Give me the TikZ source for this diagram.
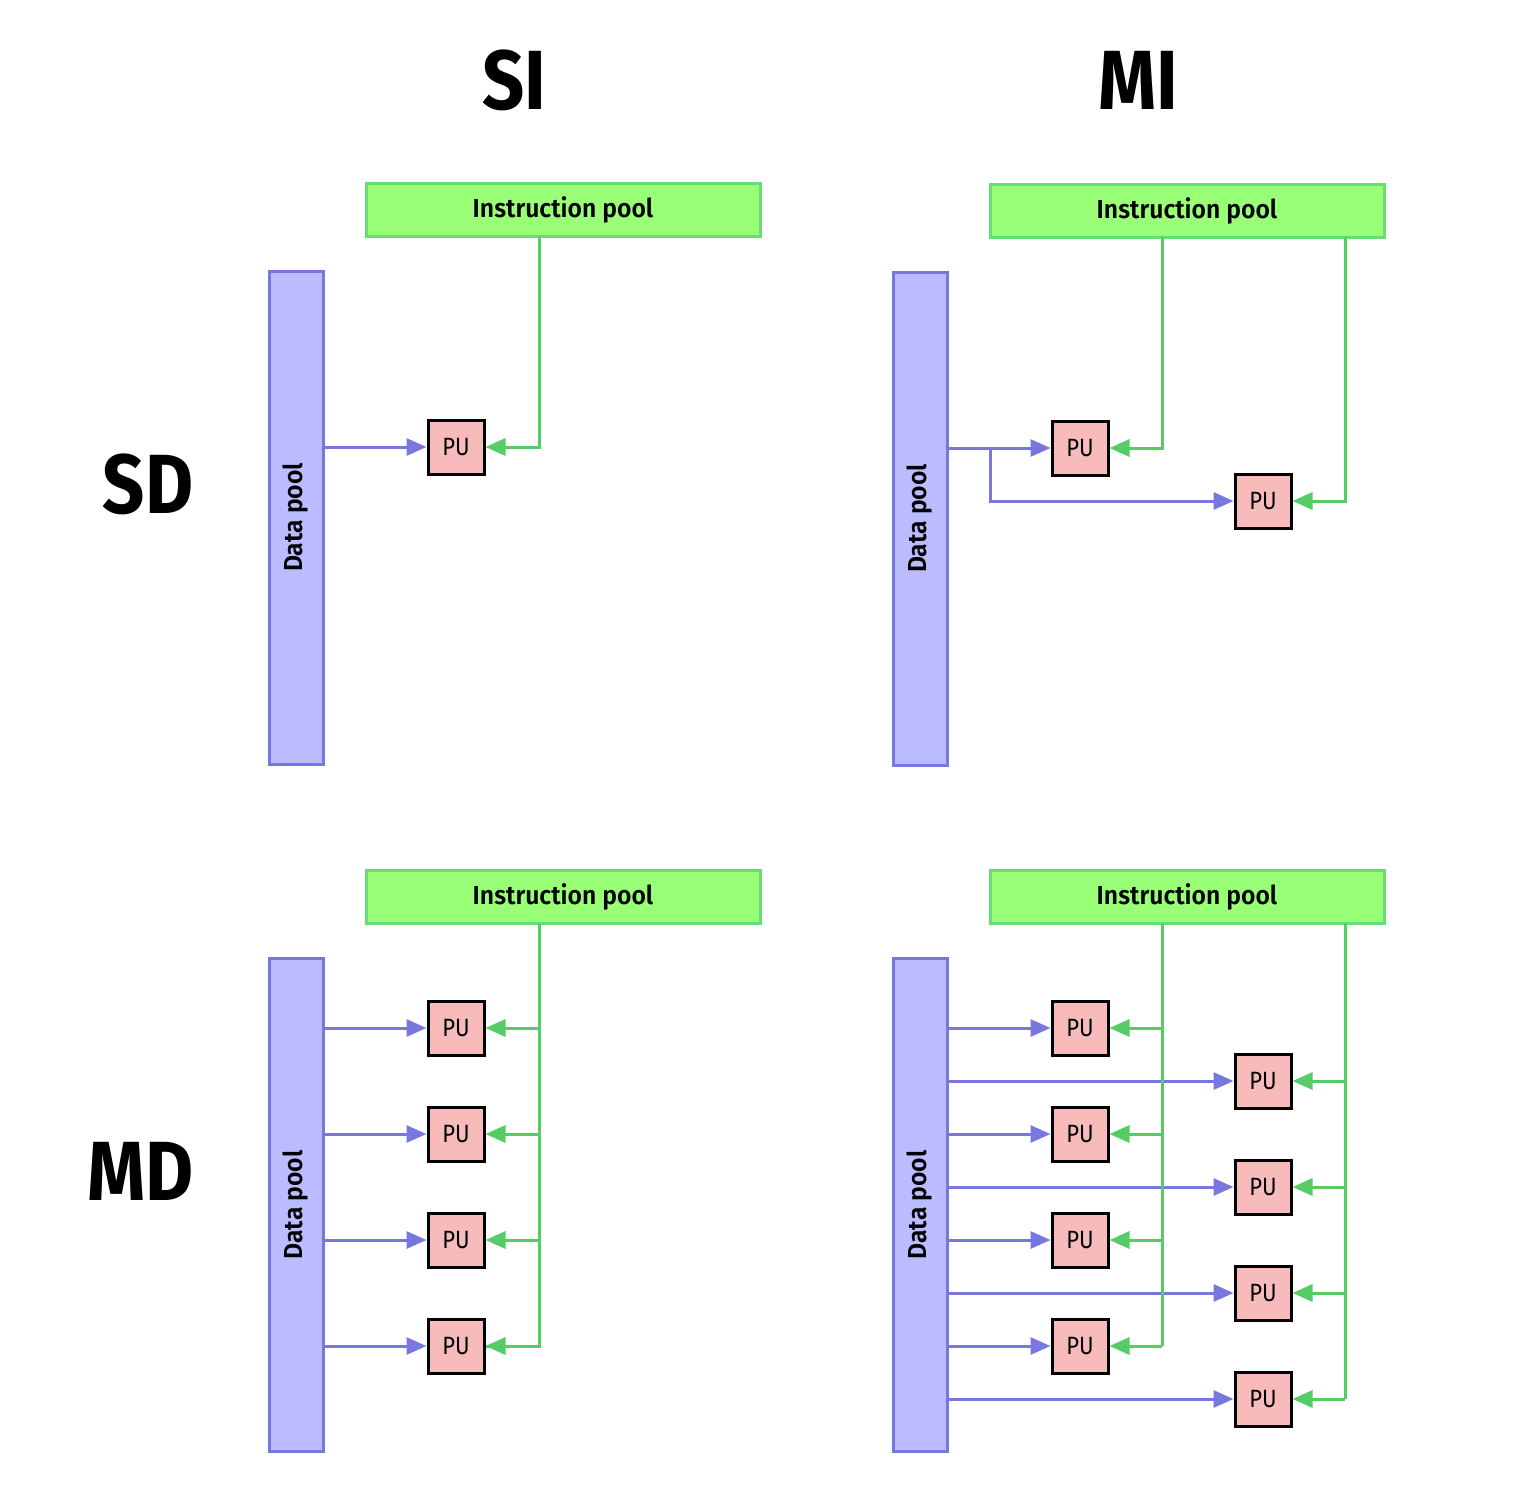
\documentclass[tikz,border=0pt]{standalone}
\usepackage{fontspec}
\setmainfont{Fira Sans}
\newfontfamily\firasbc[FakeStretch=0.95]{Fira Sans SemiBold}
\newfontfamily\firac[FakeStretch=0.88]{Fira Sans}
\newfontfamily\firabc[FakeStretch=0.88]{Fira Sans Bold}
\usetikzlibrary{arrows.meta}
\definecolor{ipfill}{HTML}{99FF77}
\definecolor{ipdraw}{HTML}{66DD77}
\definecolor{dpfill}{HTML}{BBBBFF}
\definecolor{dpdraw}{HTML}{7777DD}
\definecolor{pufill}{HTML}{F8BBBB}
\definecolor{gline}{HTML}{55CC66}
\definecolor{bline}{HTML}{7777DD}
\tikzset{
  ipbox/.style={draw=ipdraw, fill=ipfill, line width=3pt, minimum width=394pt, minimum height=53pt, inner sep=0pt, font=\firasbc\fontsize{26}{28}\selectfont},
  dpbox/.style={draw=dpdraw, fill=dpfill, line width=3pt, minimum width=54pt, minimum height=493pt, inner sep=0pt},
  dplabel/.style={rotate=90, font=\firasbc\fontsize{26}{28}\selectfont},
  pubox/.style={draw=black, fill=pufill, line width=3pt, minimum width=56pt, minimum height=54pt, inner sep=0pt, font=\firac\fontsize{25}{27}\selectfont},
  garr/.style={draw=gline, line width=3pt, -{Triangle[length=20pt,width=17pt]}},
  barr/.style={draw=bline, line width=3pt, -{Triangle[length=20pt,width=17pt]}},
  gseg/.style={draw=gline, line width=3pt},
  title/.style={font=\firabc\fontsize{84}{90}\selectfont}
}
\begin{document}
\begin{tikzpicture}[x=1pt,y=-1pt]
\useasboundingbox (0,0) rectangle (1514,1504);
% titles
\node[title] (tSI) at (514,80) {SI};
\node[title] (tMI) at (1138,80) {MI};
\node[title] (tSD) at (148,484) {SD};
\node[title] (tMD) at (141,1171) {MD};

% ===== SI SD =====
\node[ipbox] (ipA) at (563,210) {Instruction pool};
\node[dpbox] (dpA) at (296,517.5) {};
\node[dplabel] (dpAl) at (dpA.center) {Data pool};
\node[pubox] (puA) at (456,447) {PU};
\coordinate (gA) at (539,237);
\draw[barr] (dpA.east |- puA.west) -- (puA.west);
\draw[garr] (gA) |- (puA.east);

% ===== MI SD =====
\node[ipbox] (ipB) at (1187,210.5) {Instruction pool};
\node[dpbox] (dpB) at (920,518.5) {};
\node[dplabel] (dpBl) at (dpB.center) {Data pool};
\node[pubox] (puB1) at (1080,448) {PU};
\node[pubox] (puB2) at (1263,501) {PU};
\coordinate (gB1) at (1162,237);
\coordinate (gB2) at (1345,237);
\coordinate (brB) at (990,448);
\draw[barr] (dpB.east |- puB1.west) -- (puB1.west);
\draw[barr] (brB) |- (puB2.west);
\draw[garr] (gB1) |- (puB1.east);
\draw[garr] (gB2) |- (puB2.east);

% ===== SI MD =====
\node[ipbox] (ipC) at (563,896.5) {Instruction pool};
\node[dpbox] (dpC) at (296,1205) {};
\node[dplabel] (dpCl) at (dpC.center) {Data pool};
\coordinate (gC) at (539,923);
\foreach \i/\y in {1/1028,2/1134,3/1240,4/1346}{
  \node[pubox] (puC\i) at (456,\y) {PU};
  \draw[barr] (dpC.east |- puC\i.west) -- (puC\i.west);
}
\draw[gseg] (gC) -- (gC |- puC4.east) -- (puC4.east);
\foreach \i in {1,2,3,4}{
  \draw[garr] (gC |- puC\i.east) -- (puC\i.east);
}

% ===== MI MD =====
\node[ipbox] (ipD) at (1187,896.5) {Instruction pool};
\node[dpbox] (dpD) at (920,1205) {};
\node[dplabel] (dpDl) at (dpD.center) {Data pool};
\coordinate (gD1) at (1162,923);
\coordinate (gD2) at (1345,923);
\foreach \i/\y in {1/1028,2/1134,3/1240,4/1346}{
  \node[pubox] (puDL\i) at (1080,\y) {PU};
}
\foreach \i/\y in {1/1081,2/1187,3/1293,4/1399}{
  \node[pubox] (puDR\i) at (1263,\y) {PU};
}
\foreach \i in {1,2,3,4}{
  \draw[barr] (dpD.east |- puDR\i.west) -- (puDR\i.west);
}
\draw[gseg] (gD1) -- (gD1 |- puDL4.east);
\draw[gseg] (gD2) -- (gD2 |- puDR4.east);
\foreach \i in {1,2,3,4}{
  \draw[barr] (dpD.east |- puDL\i.west) -- (puDL\i.west);
  \draw[garr] (gD1 |- puDL\i.east) -- (puDL\i.east);
  \draw[garr] (gD2 |- puDR\i.east) -- (puDR\i.east);
}
\end{tikzpicture}
\end{document}
